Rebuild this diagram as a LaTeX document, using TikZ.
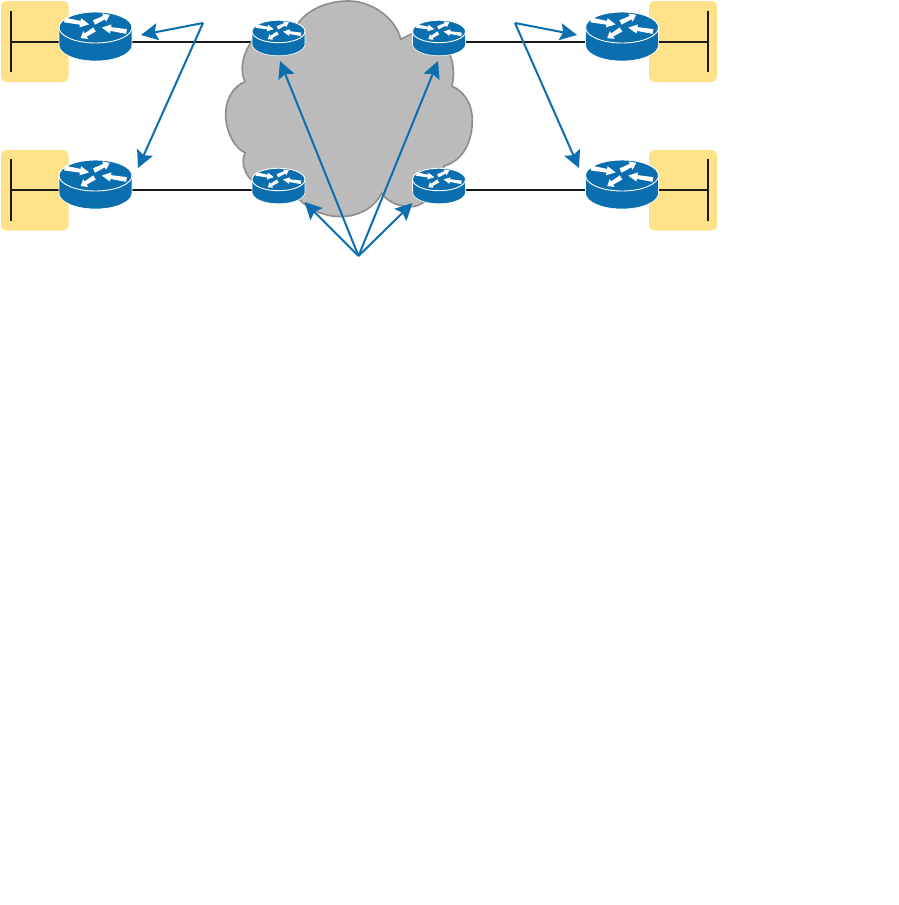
\documentclass[tikz,border=0pt]{standalone}
\usetikzlibrary{arrows.meta}
\definecolor{rblue}{HTML}{0B6FAF}
\definecolor{ryellow}{HTML}{FDE28A}
\definecolor{cloudfill}{HTML}{BBBBBB}
\definecolor{cloudline}{HTML}{8F8F8F}
\newcommand{\rarrow}[4]{\fill[white,shift={(#1,#2)},rotate=#3,xscale=#4]
  (0,-2.4) -- (16,-1.9) -- (16,-4.6) -- (25,0) -- (16,4.6) -- (16,1.9) -- (0,2.4) -- cycle;}
\tikzset{
  x=1pt,y=-1pt,
  lan/.style={fill=ryellow,rounded corners=5pt},
  wire/.style={black!90,line width=1.8pt},
  callout/.style={rblue,line width=2pt,-{Stealth[length=17pt,width=17pt,inset=3pt]}},
  bigr/.style={inner sep=0pt,minimum width=73pt,minimum height=10pt},
  smallr/.style={inner sep=0pt,minimum width=53pt,minimum height=8pt},
  router/.pic={
    \path[fill=rblue,draw=white,line width=0.6pt] (-36.5,-14.5) -- (-36.5,3)
      arc[start angle=180,end angle=360,x radius=36.5pt,y radius=16pt]
      -- (36.5,-14.5) -- cycle;
    \path[fill=rblue,draw=white,line width=0.9pt] (0,-14.5) ellipse [x radius=36.5pt,y radius=15.5pt];
    \rarrow{-31}{-22}{-10}{1}
    \rarrow{-1.5}{-19.5}{26}{0.7}
    \rarrow{31}{-10.5}{171}{1}
    \rarrow{-1}{-12.5}{212}{0.65}
  }
}
\begin{document}
\begin{tikzpicture}
\fill[white] (0,0) rectangle (899,905);
\useasboundingbox (0,0) rectangle (899,905);

% LAN boxes
\fill[lan] (1,1) rectangle (68.5,82);
\fill[lan] (1,150) rectangle (68.5,230.5);
\fill[lan] (649,1) rectangle (717,82);
\fill[lan] (649,150) rectangle (717,230.5);

% router anchors
\node[bigr] (ce1) at (95.5,42) {};
\node[bigr] (ce2) at (95.5,190) {};
\node[bigr] (ce3) at (622,42) {};
\node[bigr] (ce4) at (622,190) {};
\node[smallr] (pe1) at (278.5,42) {};
\node[smallr] (pe2) at (278.5,190) {};
\node[smallr] (pe3) at (439,42) {};
\node[smallr] (pe4) at (439,190) {};

% LAN bars
\coordinate (w1t) at (11,11); \coordinate (w1m) at (11,42); \coordinate (w1b) at (11,72);
\coordinate (w2t) at (11,159); \coordinate (w2m) at (11,190); \coordinate (w2b) at (11,221);
\coordinate (w3t) at (708,11); \coordinate (w3m) at (708,42); \coordinate (w3b) at (708,72);
\coordinate (w4t) at (708,159); \coordinate (w4m) at (708,190); \coordinate (w4b) at (708,221);
\draw[wire] (w1t) -- (w1b); \draw[wire] (w2t) -- (w2b);
\draw[wire] (w3t) -- (w3b); \draw[wire] (w4t) -- (w4b);
\draw[wire] (w1m) -- (ce1.center); \draw[wire] (w2m) -- (ce2.center);
\draw[wire] (w3m) -- (ce3.center); \draw[wire] (w4m) -- (ce4.center);

% access links
\draw[wire] (ce1.east) -- (pe1.center);
\draw[wire] (ce2.east) -- (pe2.center);
\draw[wire] (ce3.west) -- (pe3.center);
\draw[wire] (ce4.west) -- (pe4.center);

% cloud
\begin{scope}[shift={(220,0)},x=0.3333pt,y=-0.3333pt]
\path[fill=cloudfill,draw=cloudline,line width=1.7pt]
  (542,118) .. controls (530,60) and (460,3) .. (385,3)
  .. controls (310,3) and (250,40) .. (232,75)
  .. controls (180,70) and (130,85) .. (95,125)
  .. controls (65,165) and (60,215) .. (75,245)
  .. controls (35,262) and (15,305) .. (17,350)
  .. controls (20,400) and (45,445) .. (75,458)
  .. controls (62,490) and (75,525) .. (100,545)
  .. controls (140,575) and (200,590) .. (240,600)
  .. controls (270,632) and (320,650) .. (360,650)
  .. controls (420,650) and (465,620) .. (485,580)
  .. controls (505,608) and (540,622) .. (580,620)
  .. controls (620,615) and (660,560) .. (672,498)
  .. controls (730,482) and (757,425) .. (757,360)
  .. controls (757,315) and (735,275) .. (695,258)
  .. controls (705,225) and (700,190) .. (690,165)
  .. controls (670,120) and (620,90) .. (578,100)
  -- cycle;
\end{scope}

% routers
\pic at (ce1) {router};
\pic at (ce2) {router};
\pic at (ce3) {router};
\pic at (ce4) {router};
\pic[scale=0.726] at (pe1) {router};
\pic[scale=0.726] at (pe2) {router};
\pic[scale=0.726] at (pe3) {router};
\pic[scale=0.726] at (pe4) {router};

% callouts
\coordinate (apexL) at (203,23);
\coordinate (apexR) at (515,23);
\coordinate (apexB) at (358.5,256);
\coordinate (t1) at (141,35);
\coordinate (t2) at (138,168);
\coordinate (t3) at (577,35);
\coordinate (t4) at (579,168);
\coordinate (t5) at (280,61);
\coordinate (t6) at (438,61);
\coordinate (t7) at (304.5,202);
\coordinate (t8) at (412.5,203);
\draw[callout] (apexL) -- (t1);
\draw[callout] (apexL) -- (t2);
\draw[callout] (apexR) -- (t3);
\draw[callout] (apexR) -- (t4);
\draw[callout] (apexB) -- (t5);
\draw[callout] (apexB) -- (t6);
\draw[callout] (apexB) -- (t7);
\draw[callout] (apexB) -- (t8);
\end{tikzpicture}
\end{document}
